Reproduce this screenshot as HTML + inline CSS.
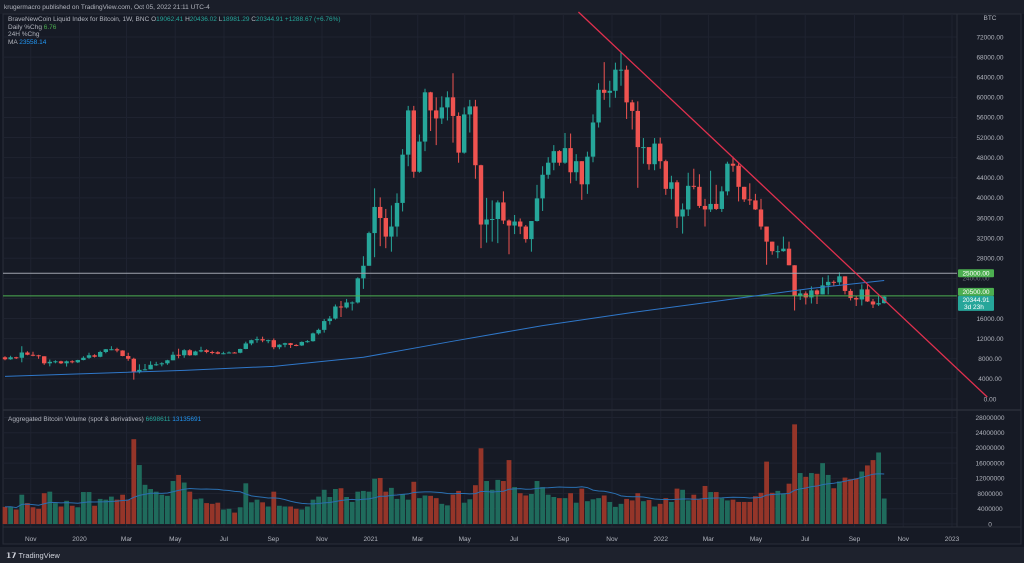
<!DOCTYPE html>
<html><head><meta charset="utf-8">
<style>
html,body{margin:0;padding:0;background:#131722;}
body{width:1024px;height:563px;overflow:hidden;font-family:"Liberation Sans",sans-serif;}
svg{display:block;}
</style></head>
<body>
<svg id="chart" width="1024" height="563" viewBox="0 0 1024 563" xmlns="http://www.w3.org/2000/svg">
<rect x="0" y="0" width="1024" height="563" fill="#131722"/>
<rect x="0" y="0" width="1024" height="14" fill="#1a1e29"/>
<text x="4" y="9" font-size="6.5" fill="#b2b5be">krugermacro published on TradingView.com, Oct 05, 2022 21:11 UTC-4</text>
<rect x="3" y="14" width="1018" height="530" fill="#161a25" stroke="#2a2e39" stroke-width="1"/>
<g id="grid"></g>
<g id="vol"></g>
<g id="price"></g>
<g id="overlay"></g>
<g id="axes"></g>
<g font-size="6.5">
<text x="8" y="21" fill="#b2b5be">BraveNewCoin Liquid Index for Bitcoin, 1W, BNC <tspan fill="#b2b5be">O</tspan><tspan fill="#26a69a">19062.41</tspan> <tspan fill="#b2b5be">H</tspan><tspan fill="#26a69a">20436.02</tspan> <tspan fill="#b2b5be">L</tspan><tspan fill="#26a69a">18981.29</tspan> <tspan fill="#b2b5be">C</tspan><tspan fill="#26a69a">20344.91 +1288.67 (+6.76%)</tspan></text>
<text x="8" y="29" fill="#b2b5be">Daily %Chg <tspan fill="#4caf50">6.76</tspan></text>
<text x="8" y="36" fill="#b2b5be">24H %Chg</text>
<text x="8" y="44" fill="#b2b5be">MA <tspan fill="#2196f3">23558.14</tspan></text>
<text x="8" y="421" fill="#b2b5be">Aggregated Bitcoin Volume (spot &amp; derivatives) <tspan fill="#26a69a">6698611</tspan> <tspan fill="#2196f3">13135691</tspan></text>
</g>
<rect x="0" y="547" width="1024" height="16" fill="#1e222d"/>
<text x="6" y="558" font-size="7.5" font-weight="bold" fill="#d1d4dc">𝟭𝟳 <tspan font-weight="normal">TradingView</tspan></text>
</svg>
<script>
const closes=[7900,8300,8200,9250,8800,8700,8500,7100,7400,7500,7100,7500,7300,7750,8200,8700,8400,9350,9900,9900,9650,8550,8000,5350,5800,5900,6800,6900,7100,7700,8800,8700,9700,8700,9450,9700,9350,9300,9000,9100,9250,9200,9950,11050,11700,11900,11650,11700,10300,10800,11100,10750,10650,11350,11500,13050,13750,15500,16000,18400,18200,19200,19200,24000,26500,33000,38200,36000,32300,34300,39000,48600,57400,45200,51200,61000,57400,55800,58000,60000,56300,49000,56600,58200,46500,34700,35700,35800,39100,35500,34500,35300,34300,31800,35400,39900,44600,47000,49300,47000,49900,45100,47300,42700,48200,55000,61500,60900,61300,65500,65500,59000,57300,50100,50100,46700,50800,47300,41800,43100,36300,37700,42400,42200,38400,37700,38800,37800,41300,46800,46400,42200,39700,39500,37700,34300,31300,29400,29400,29900,26600,20500,21000,20200,21600,20800,22600,23300,23200,24400,21500,20100,19800,21800,19400,18800,19062,20345];
const highs=[8500,8600,8400,10500,9500,9400,8800,8500,7850,7700,7600,7650,7700,7800,8500,9200,8900,9600,9950,10500,10200,9700,9200,8200,6900,6950,7500,7400,7300,7800,9400,10000,9900,9900,9600,10400,9900,9600,9500,9400,9450,9350,10000,11400,11800,12400,12400,11800,12050,10900,11200,11150,10900,11450,11700,13200,14000,15900,16500,18800,19500,19900,19400,24200,28400,33300,41900,40100,37800,38500,40900,49700,58300,58300,52600,61700,61100,60000,60200,61200,64800,57000,58000,59500,59500,46600,40000,39500,39500,41300,35700,36600,35900,34600,35400,42600,46300,48100,50500,49500,52900,52800,48700,47300,49200,56600,62800,67000,63300,66900,69000,66300,59500,59200,51900,50000,51900,52000,47600,44400,43500,38900,45000,45800,44700,39800,45400,42600,42300,47200,48200,47000,42200,42900,40800,39800,34300,31300,30500,32300,31300,26600,21800,21400,22400,21800,24200,24600,23600,25200,24400,21900,20500,22800,22700,19900,20500,20436];
const lows=[7700,7800,7950,7300,8700,8500,8000,6800,6500,7100,6950,6450,7100,7150,7700,8000,8250,8300,9100,9700,9300,8500,7600,3850,5100,5700,5900,6600,6500,6800,7700,8100,8200,8600,8650,9300,9100,8900,8900,8900,9100,9050,9100,9900,10700,11200,11300,11100,9900,9900,10300,10150,10500,10550,11200,11400,12800,13200,14800,15800,16300,18000,17600,19000,21900,26500,28200,30400,30000,29300,32300,37300,46300,44000,45000,49300,53300,50500,54700,55400,51000,47000,48800,53000,43800,30000,31100,31300,31000,34800,28800,32800,32800,31100,29300,35300,37400,43800,45500,46400,46800,42900,43400,39600,40800,47100,54000,59500,58000,59900,62300,55700,53600,42000,46800,45600,45500,45800,40600,39700,34000,32900,36400,41700,38000,34300,37200,37600,37200,40500,45200,39300,39200,38600,37600,33700,26700,28700,28000,29300,26600,17600,19700,18800,19000,18900,20800,20800,22500,22700,20800,19600,18500,18600,19300,18100,18500,18981];
const firstOpen=8300;
const volumes=[4.5,4.6,3.8,7.7,5.5,4.4,4,8.1,8.5,5.5,4.6,6.1,4.8,4.4,8.4,8.4,4.8,6.6,6.4,7.2,6.4,7.7,6.4,22.3,15.5,10.3,9.2,8.5,7.7,7.4,11.3,12.9,10.9,8.5,6.5,6.7,5.5,5.3,5.6,3.8,4,3,4.4,10.7,5.7,6.4,5.7,4.6,8.5,4.8,4.6,4.6,4,3.8,4.6,6.4,7.2,9,
7.1,9.2,9.4,7.1,5.8,8.5,8.7,8.5,11.9,12.1,8.5,9.5,6.6,7.8,6.4,11.1,6.8,7.5,7.4,6.8,5.3,4.9,7.7,8.7,5.6,6.5,10.2,19.9,11.3,9,11.6,11.3,16.8,9.7,8.1,7.5,7.9,11.3,9.7,7.7,7.1,6.8,6.8,8.1,5.6,9.3,6,6.5,6.8,7.5,5.8,4.5,5.3,6.6,6.2,8.1,6,6.3,4.6,
5.3,6.8,5.8,9.3,9,6.2,7.7,6.4,10,8.4,8.4,6.8,6.2,6.4,5.8,5.8,5.8,7.3,8.2,16.4,8.2,8.7,7.9,10.6,26.2,13.4,12.4,13.4,13.2,16,12.9,9.4,11.2,12.2,11.8,12,13.8,15.4,16.8,18.8,6.7];
const maWeeks=[0,16,32,48,64,80,96,112,128,144,157];
const maValues=[4500,5100,5700,6500,8300,11500,14600,17200,19600,22000,23560];
const priceTicks=[0,4000,8000,12000,16000,20000,24000,28000,32000,36000,40000,44000,48000,52000,56000,60000,64000,68000,72000];
const volTicks=[0,4000000,8000000,12000000,16000000,20000000,24000000,28000000];
const timeLabels=["Nov","2020","Mar","May","Jul","Sep","Nov","2021","Mar","May","Jul","Sep","Nov","2022","Mar","May","Jul","Sep","Nov","2023"];
const timeWeeks=[4.6,13.3,21.7,30.4,39.1,47.9,56.6,65.3,73.7,82.1,90.9,99.7,108.4,117.1,125.6,134.1,142.9,151.7,160.4,169.1];
const trendA=[102.4,76970], trendB=[175.4,400];
const hLevels=[25000,20500];

const NS="http://www.w3.org/2000/svg";
const X=w=>5+w*5.6;
const Y=p=>399-p*362/72000;
const VY=v=>524-v*106.5/28;
function mk(tag,attrs,parent){const e=document.createElementNS(NS,tag);for(const k in attrs)e.setAttribute(k,attrs[k]);parent.appendChild(e);return e;}
const grid=document.getElementById('grid'),vol=document.getElementById('vol'),price=document.getElementById('price'),ov=document.getElementById('overlay'),axes=document.getElementById('axes');
const PR=957;
priceTicks.forEach(t=>{const l=mk('line',{x1:3,x2:PR,y1:Y(t),y2:Y(t),stroke:'#1f2330','stroke-width':1},grid);

});
volTicks.forEach(t=>{const l=mk('line',{x1:3,x2:PR,y1:VY(t/1e6),y2:VY(t/1e6),stroke:'#1f2330','stroke-width':1},grid);

});
timeWeeks.forEach(w=>{const l=mk('line',{x1:X(w),x2:X(w),y1:14,y2:527,stroke:'#1f2330','stroke-width':1},grid);

});
const sep=mk('line',{x1:3,x2:1021,y1:410,y2:410,stroke:'#2a2e39','stroke-width':1.5},grid);


const sep2=mk('line',{x1:PR,x2:PR,y1:14,y2:527,stroke:'#2a2e39','stroke-width':1},grid);


const sep3=mk('line',{x1:3,x2:1021,y1:527,y2:527,stroke:'#2a2e39','stroke-width':1},grid);


volumes.forEach((v,i)=>{const o=i?closes[i-1]:firstOpen;const up=closes[i]>=o;
const r=mk('rect',{x:X(i)-2.4,y:VY(v),width:4.8,height:524-VY(v),fill:up?'#1f6b5c':'#953529'},vol);

});
let vpts=[];volumes.forEach((v,i)=>{const s=volumes.slice(Math.max(0,i-19),i+1);const m=s.reduce((a,b)=>a+b,0)/s.length;vpts.push(X(i)+','+VY(m));});
const vma=mk('polyline',{points:vpts.join(' '),fill:'none',stroke:'#2a6fb0','stroke-width':1},vol);


hLevels.forEach((h,k)=>{const l=mk('line',{x1:3,x2:PR,y1:Y(h),y2:Y(h),stroke:k?'#4caf50':'#9fa3ad','stroke-width':1},ov);

});
const mpts=maWeeks.map((w,i)=>X(w)+','+Y(maValues[i])).join(' ');
const ma=mk('polyline',{points:mpts,fill:'none',stroke:'#2f77c9','stroke-width':1,'stroke-linejoin':'round'},ov);


closes.forEach((c,i)=>{const o=i?closes[i-1]:firstOpen;const up=c>=o;const col=up?'#26a69a':'#ef5350';
const g=mk('g',{},price);


mk('line',{x1:X(i),x2:X(i),y1:Y(highs[i]),y2:Y(lows[i]),stroke:col,'stroke-width':1},g);
const t=Y(Math.max(o,c)),b=Y(Math.min(o,c));
mk('rect',{x:X(i)-2.2,y:t,width:4.4,height:Math.max(1,b-t),fill:col},g);});
const tl=mk('line',{x1:X(trendA[0]),y1:Y(trendA[1]),x2:X(trendB[0]),y2:Y(trendB[1]),stroke:'#e0304e','stroke-width':1.3},ov);


const bt=mk('text',{x:990,y:20,'font-size':6.5,fill:'#b2b5be','text-anchor':'middle'},axes);bt.textContent='BTC';


priceTicks.forEach(t=>{if(t===24000||t===20000)return;const e=mk('text',{x:990,y:Y(t)+2.3,'font-size':6.5,fill:'#b2b5be','text-anchor':'middle'},axes);e.textContent=t.toFixed(2);

});
const g24=mk('text',{x:976,y:Y(24000)+2.3,'font-size':6.5,fill:'#6a6d78','text-anchor':'middle'},axes);g24.textContent='24000.00';


volTicks.forEach(t=>{const e=mk('text',{x:990,y:VY(t/1e6)+2.3,'font-size':6.5,fill:'#b2b5be','text-anchor':'middle'},axes);e.textContent=t;

});
timeLabels.forEach((s,i)=>{const e=mk('text',{x:X(timeWeeks[i]),y:541,'font-size':6.5,fill:'#b2b5be','text-anchor':'middle'},axes);e.textContent=s;

});
function badge(top,txt,fill,h,name,sub){const g=mk('g',{},axes);


mk('rect',{x:958,y:top,width:36,height:h,fill:fill,rx:1},g);
const t=mk('text',{x:976,y:top+6.3,'font-size':6.5,fill:'#ffffff','text-anchor':'middle'},g);t.textContent=txt;
if(sub){const s=mk('text',{x:964,y:top+13.3,'font-size':6.5,fill:'#ffffff'},g);s.textContent=sub;}}
badge(Y(25000)-4,'25000.00','#4caf50',8,'level-25000-badge');
badge(Y(20500)-8,'20500.00','#4caf50',8,'level-20500-badge');
badge(Y(20500),'20344.91','#26a69a',15,'last-price-badge','3d 23h');
</script>
</body></html>
